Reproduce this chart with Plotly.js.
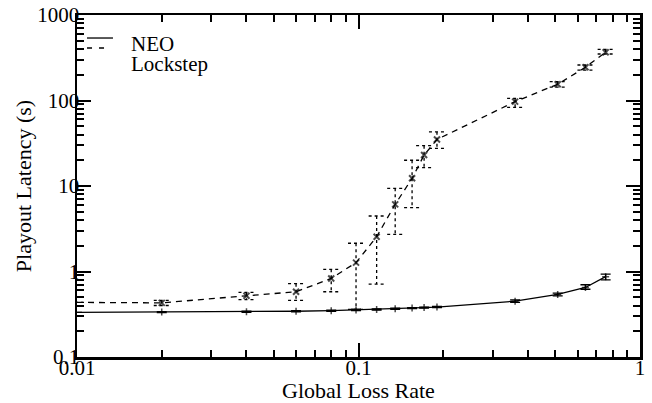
<!DOCTYPE html>
<html>
<head>
<meta charset="utf-8">
<script src="https://cdn.plot.ly/plotly-3.0.1.min.js"></script>
<style>
  html, body { margin: 0; padding: 0; background: #fff; }
  #chart { width: 652px; height: 403px; }
  .scatterlayer .trace:nth-of-type(2) path.yerror { stroke-dasharray: 3px 3px; }
</style>
</head>
<body>
<div id="chart"></div>
<script>
// Global loss rate (x)
const lossRate = [0.01, 0.02, 0.04, 0.06, 0.08, 0.098, 0.116, 0.135, 0.155, 0.171, 0.19, 0.36, 0.51, 0.64, 0.755];

// NEO playout latency (s) with error range
const neoLatency = [0.333, 0.335, 0.338, 0.343, 0.348, 0.355, 0.360, 0.367, 0.373, 0.378, 0.384, 0.45, 0.54, 0.65, 0.87];
const neoHigh    = [0.333, 0.340, 0.343, 0.348, 0.353, 0.362, 0.366, 0.373, 0.379, 0.384, 0.391, 0.465, 0.56, 0.70, 0.93];
const neoLow     = [0.333, 0.330, 0.333, 0.338, 0.343, 0.348, 0.354, 0.361, 0.367, 0.372, 0.377, 0.435, 0.52, 0.62, 0.80];

// Lockstep playout latency (s) with error range
const lockLatency = [0.435, 0.43, 0.52, 0.58, 0.83, 1.27, 2.55, 6.1, 12.3, 23, 35, 97, 155, 245, 366];
const lockHigh    = [0.435, 0.46, 0.57, 0.72, 1.06, 2.14, 4.46, 9.4, 20, 29.6, 43, 106, 166, 260, 397];
const lockLow     = [0.435, 0.40, 0.47, 0.46, 0.58, 0.36, 0.71, 2.72, 5.6, 16.4, 27.6, 83, 143, 227, 350];

const seriesNames = ['NEO', 'Lockstep'];

const FONT = '"Liberation Serif", "Times New Roman", Times, serif';

const neoTrace = {
  x: lossRate, y: neoLatency, name: seriesNames[0], type: 'scatter', mode: 'lines+markers',
  showlegend: false,
  line: { color: '#000', width: 1.3 },
  marker: { symbol: 'cross-thin', size: lossRate.map(v => v <= 0.01 ? 0 : 5), line: { color: '#000', width: 1.5 } },
  error_y: { type: 'data', symmetric: false,
    array: neoHigh.map((h, i) => h - neoLatency[i]),
    arrayminus: neoLow.map((l, i) => neoLatency[i] - l),
    color: '#000', thickness: 1.3, width: 5 }
};

const lockTrace = {
  x: lossRate, y: lockLatency, name: seriesNames[1], type: 'scatter', mode: 'lines+markers',
  showlegend: false,
  line: { color: '#000', width: 1.3, dash: '6px,5px' },
  marker: { symbol: 'x-thin', size: lossRate.map(v => v <= 0.01 ? 0 : 6), line: { color: '#000', width: 2 } },
  error_y: { type: 'data', symmetric: false,
    array: lockHigh.map((h, i) => h - lockLatency[i]),
    arrayminus: lockLatency.map((v, i) => v - lockLow[i]),
    color: '#000', thickness: 1.3, width: 8 }
};

const axisCommon = {
  type: 'log', showgrid: false, zeroline: false,
  showline: true, linecolor: '#000', linewidth: 2.5, mirror: 'allticks',
  ticks: 'inside', ticklen: 14, tickwidth: 2, tickcolor: '#000',
  dtick: 1, exponentformat: 'none',
  minor: { ticks: 'inside', ticklen: 7, tickwidth: 2, tickcolor: '#000', dtick: 'D1', showgrid: false },
  tickfont: { family: FONT, size: 21, color: '#000' }
};

// Legend drawn in paper coordinates (top-left, inside the plot area)
const legendShapes = [
  { type: 'line', xref: 'paper', yref: 'paper', x0: 0.0178, x1: 0.0639, y0: 0.9327, y1: 0.9327,
    line: { color: '#000', width: 1.3 } },
  { type: 'line', xref: 'paper', yref: 'paper', x0: 0.0178, x1: 0.0515, y0: 0.9035, y1: 0.9035,
    line: { color: '#000', width: 1.3, dash: '5px,7px' } }
];
const legendTexts = [
  { text: seriesNames[0], xref: 'paper', yref: 'paper', x: 0.0924, y: 0.9152, xanchor: 'left', yanchor: 'middle',
    showarrow: false, font: { family: FONT, size: 21, color: '#000' } },
  { text: seriesNames[1], xref: 'paper', yref: 'paper', x: 0.0924, y: 0.8567, xanchor: 'left', yanchor: 'middle',
    showarrow: false, font: { family: FONT, size: 21, color: '#000' } }
];

const layout = {
  width: 652, height: 403,
  margin: { l: 77, r: 12, t: 15, b: 46 },
  paper_bgcolor: '#fff', plot_bgcolor: '#fff',
  font: { family: FONT, size: 21, color: '#000' },
  showlegend: false,
  shapes: legendShapes,
  annotations: legendTexts,
  xaxis: Object.assign({}, axisCommon, { range: [-2, 0], ticklabelstandoff: -10,
    title: { text: 'Global Loss Rate', font: { family: FONT, size: 22, color: '#000' }, standoff: 0 } }),
  yaxis: Object.assign({}, axisCommon, { range: [-1, 3], ticklabelstandoff: -9,
    title: { text: 'Playout Latency (s)', font: { family: FONT, size: 22, color: '#000' }, standoff: 0 } })
};

Plotly.newPlot('chart', [neoTrace, lockTrace], layout, { displayModeBar: false, staticPlot: true });
</script>
</body>
</html>
